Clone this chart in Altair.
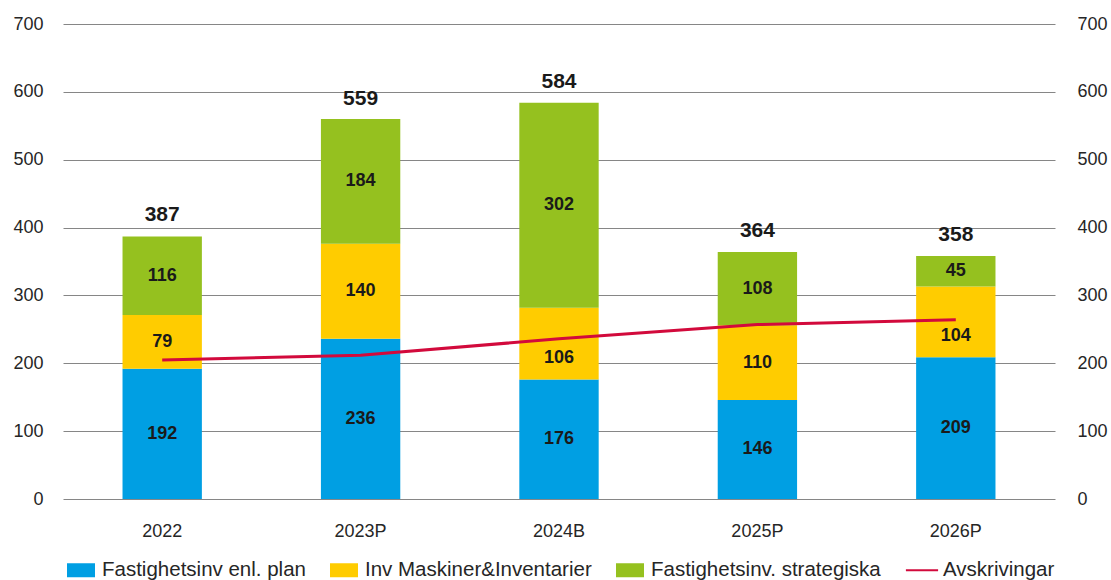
import altair as alt
import pandas as pd

years = ["2022", "2023P", "2024B", "2025P", "2026P"]
plan = [192, 236, 176, 146, 209]
maskiner = [79, 140, 106, 110, 104]
strategiska = [116, 184, 302, 108, 45]
totals = [387, 559, 584, 364, 358]
avskrivingar = [205, 212, 236, 257, 264]

series = ["Fastighetsinv enl. plan", "Inv Maskiner&Inventarier",
          "Fastighetsinv. strategiska", "Avskrivingar"]
colors = ["#009FE3", "#FFCC00", "#95C11F", "#D20A3C"]

rows = []
for i, y in enumerate(years):
    for k, vals in enumerate([plan, maskiner, strategiska]):
        rows.append({"year": y, "serie": series[k], "value": vals[i], "order": k})
long = pd.DataFrame(rows)
tot = pd.DataFrame({"year": years, "total": totals})
line = pd.DataFrame({"year": years, "value": avskrivingar, "serie": series[3]})
leg = pd.DataFrame({"serie": series})

FONT = "Liberation Sans"
TXT = "#262626"
ydom = alt.Scale(domain=[0, 700], nice=False, zero=True)
xenc = alt.X("year:N", sort=years,
             scale=alt.Scale(paddingInner=0.6, paddingOuter=0.3),
             axis=alt.Axis(title=None, labelAngle=0, ticks=False, domain=False,
                           labelPadding=23, labelFontSize=18, labelColor=TXT,
                           labelFont=FONT))

rect = "M-1,-0.5H1V0.5H-1Z"
lpath = "M-1.15,-0.07H1.15V0.07H-1.15Z"
cscale = alt.Scale(domain=series, range=colors)

bars = alt.Chart(long).mark_bar().encode(
    x=xenc,
    y=alt.Y("value:Q", stack="zero", scale=ydom,
            axis=alt.Axis(title=None, values=list(range(0, 701, 100)),
                          ticks=False, domain=False, grid=True,
                          gridColor="#868686", gridWidth=1,
                          labelFontSize=18, labelColor=TXT, labelFont=FONT,
                          labelPadding=20)),
    color=alt.Color("serie:N", scale=cscale, legend=None),
    order=alt.Order("order:Q"),
)

lines = alt.Chart(line).mark_line(strokeWidth=3).encode(
    x=xenc,
    y=alt.Y("value:Q", scale=ydom,
            axis=alt.Axis(title=None, orient="right",
                          values=list(range(0, 701, 100)),
                          ticks=False, domain=False, grid=False,
                          labelFontSize=18, labelColor=TXT, labelFont=FONT,
                          labelPadding=22)),
    color=alt.Color("serie:N", scale=cscale, legend=None),
)

# labels that sit just under the depreciation line in the original
moved = "(datum.year === '2024B' || datum.year === '2026P') && datum.order === 1"

segbase = alt.Chart(long).transform_stack(
    stack="value", groupby=["year"], as_=["y0", "y1"],
    sort=[alt.SortField("order", order="ascending")],
).transform_calculate(mid="(datum.y0 + datum.y1) / 2")

seg = segbase.transform_filter("!(" + moved + ")").mark_text(
    font=FONT, fontSize=18, fontWeight="bold", color="#1a1a1a", baseline="middle"
).encode(
    x=xenc,
    y=alt.Y("mid:Q", scale=ydom, axis=None),
    text=alt.Text("value:Q"),
)
seg2 = segbase.transform_filter(moved).mark_text(
    font=FONT, fontSize=18, fontWeight="bold", color="#1a1a1a", baseline="middle",
    dy=14,
).encode(
    x=xenc,
    y=alt.Y("mid:Q", scale=ydom, axis=None),
    text=alt.Text("value:Q"),
)

toptxt = alt.Chart(tot).mark_text(
    font=FONT, fontSize=21, fontWeight="bold", color="#1a1a1a",
    baseline="alphabetic", dy=-15,
).encode(
    x=xenc,
    y=alt.Y("total:Q", scale=ydom, axis=None),
    text=alt.Text("total:Q"),
)

legend = alt.Legend(
    title=None, orient="none", direction="horizontal", legendX=4, legendY=532,
    symbolSize=784, symbolStrokeWidth=0, symbolOpacity=1,
    labelFontSize=20.5, labelFont=FONT, labelColor=TXT, labelOffset=7,
    labelLimit=500, columnPadding=24, padding=0,
)
legpts = alt.Chart(leg).mark_point(filled=True, clip=True, opacity=1).encode(
    x=alt.value(-500), y=alt.value(-500),
    color=alt.Color("serie:N", scale=cscale, legend=legend),
    shape=alt.Shape("serie:N",
                    scale=alt.Scale(domain=series, range=[rect, rect, rect, lpath]),
                    legend=legend),
)

chart = alt.layer(bars, lines, seg, seg2, toptxt, legpts).resolve_scale(
    y="independent"
).resolve_legend(color="independent", shape="independent").properties(
    width=992, height=475,
    autosize=alt.AutoSizeParams(type="none"),
    padding={"left": 63, "top": 24, "right": 56, "bottom": 81},
).configure(font=FONT, view=alt.ViewConfig(stroke=None))

chart.save("out.html", embed_options={"renderer": "svg", "actions": False})
